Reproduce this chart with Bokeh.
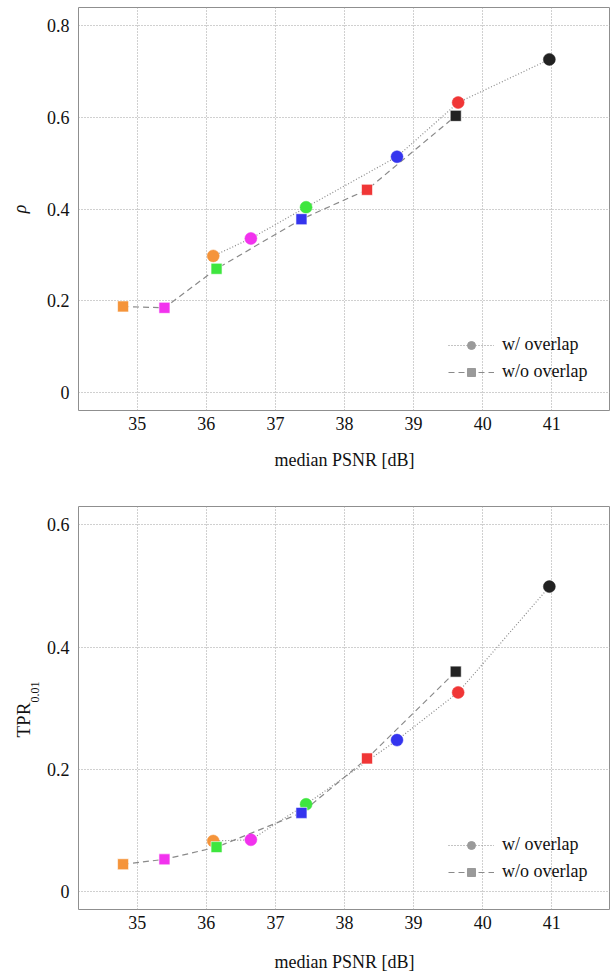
import math
from bokeh.plotting import figure
from bokeh.models import (ColumnDataSource, Range1d, Legend, LegendItem, Title,
                          FixedTicker)
from bokeh.layouts import column
from bokeh.embed import file_html
from bokeh.resources import INLINE

# ---------------- data ----------------
colors = ["#f5943a", "#f232ee", "#3ee63e", "#3434ee", "#f03636", "#222222"]

psnr_overlap = [36.10, 36.645, 37.444, 38.76, 39.645, 40.965]
psnr_no_overlap = [34.795, 35.394, 36.148, 37.377, 38.326, 39.61]

rho_overlap = [0.298, 0.336, 0.404, 0.514, 0.632, 0.726]
rho_no_overlap = [0.188, 0.185, 0.270, 0.378, 0.442, 0.603]

tpr_overlap = [0.083, 0.085, 0.143, 0.248, 0.326, 0.499]
tpr_no_overlap = [0.045, 0.053, 0.073, 0.129, 0.218, 0.360]

x_ticks = [35, 36, 37, 38, 39, 40, 41]
rho_ticks = [0, 0.2, 0.4, 0.6, 0.8]
tpr_ticks = [0, 0.2, 0.4, 0.6]
rho_tick_labels = {0: "0", 0.2: "0.2", 0.4: "0.4", 0.6: "0.6", 0.8: "0.8"}
tpr_tick_labels = {0: "0", 0.2: "0.2", 0.4: "0.4", 0.6: "0.6"}

FONT = "Liberation Serif"
GRID = "#a0a0a0"
FRAME = "#8f8f8f"
LINE = "#8a8a8a"


def make_panel(y_over, y_no, yr, yticks, ylabels, border_top, border_bottom,
               border_left, xlabel_standoff, ylabel, legend_bottom):
    p = figure(width=610, height=487, output_backend="svg", toolbar_location=None,
               x_range=Range1d(34.15, 41.85), y_range=Range1d(*yr),
               min_border_left=border_left, min_border_right=0,
               min_border_top=border_top, min_border_bottom=border_bottom)
    p.background_fill_color = "white"
    p.border_fill_color = "white"
    p.outline_line_color = FRAME
    p.outline_line_width = 1

    p.axis.axis_line_color = None
    p.axis.major_tick_line_color = None
    p.axis.minor_tick_line_color = None
    p.axis.major_tick_out = 0
    p.axis.major_tick_in = 0
    p.axis.minor_tick_out = 0
    p.axis.major_label_text_font = FONT
    p.axis.major_label_text_font_style = "normal"
    p.axis.major_label_text_font_size = "18px"
    p.axis.major_label_text_color = "#111111"
    p.axis.axis_label_text_font = FONT
    p.axis.axis_label_text_font_style = "normal"
    p.axis.axis_label_text_font_size = "18px"
    p.axis.axis_label_text_color = "#111111"

    p.xaxis.ticker = FixedTicker(ticks=x_ticks)
    p.yaxis.ticker = FixedTicker(ticks=yticks)
    p.yaxis.major_label_overrides = ylabels
    p.xaxis.major_label_standoff = 6
    p.yaxis.major_label_standoff = 9
    p.xaxis.axis_label = "median PSNR [dB]"
    p.xaxis.axis_label_standoff = xlabel_standoff
    if ylabel:
        p.yaxis.axis_label = ylabel
        p.yaxis.axis_label_text_font_style = "italic"
        p.yaxis.axis_label_standoff = 14

    p.grid.grid_line_color = GRID
    p.grid.grid_line_dash = "1 2"
    p.grid.grid_line_width = 1

    s_over = ColumnDataSource(dict(x=psnr_overlap, y=y_over, c=colors))
    s_no = ColumnDataSource(dict(x=psnr_no_overlap, y=y_no, c=colors))

    l_over = p.line("x", "y", source=s_over, line_color=LINE, line_dash="1 2",
                    line_width=1.2)
    l_no = p.line("x", "y", source=s_no, line_color=LINE, line_dash="6 4",
                  line_width=1.2)
    p.scatter("x", "y", source=s_over, marker="circle", size=12,
              fill_color="c", line_color="c", line_alpha=0.5)
    p.scatter("x", "y", source=s_no, marker="square", size=11,
              fill_color="c", line_color="white", line_alpha=0.6)

    # gray markers used only by the legend
    d_over = p.scatter("x", "y", source=s_over, marker="circle", size=12,
                       fill_color="#9a9a9a", line_color="#9a9a9a", visible=False)
    d_no = p.scatter("x", "y", source=s_no, marker="square", size=11,
                     fill_color="#9a9a9a", line_color="#9a9a9a", visible=False)

    legend = Legend(items=[
        LegendItem(label="w/ overlap", renderers=[l_over, d_over]),
        LegendItem(label="w/o overlap", renderers=[l_no, d_no]),
    ], location=(370, legend_bottom))
    legend.border_line_color = None
    legend.background_fill_alpha = 0
    legend.padding = 0
    legend.margin = 0
    legend.spacing = 6
    legend.glyph_width = 46
    legend.glyph_height = 20
    legend.label_height = 20
    legend.label_standoff = 8
    legend.label_text_font = FONT
    legend.label_text_font_style = "normal"
    legend.label_text_font_size = "18px"
    legend.label_text_color = "#111111"
    p.add_layout(legend, "center")
    return p


p1 = make_panel(rho_overlap, rho_no_overlap, (-0.0386, 0.839), rho_ticks,
                rho_tick_labels, 7, 77, 76, 17, "ρ", 28)

p2 = make_panel(tpr_overlap, tpr_no_overlap, (-0.029, 0.630), tpr_ticks,
                tpr_tick_labels, 19, 65, 78, 20, "", 27)

# y-axis title TPR_{0.01}: main text plus a smaller, lowered subscript
t_sub = Title(text="0.01", align="left", offset=207, standoff=6,
              vertical_align="top",
              text_font=FONT, text_font_size="12px",
              text_font_style="normal", text_color="#111111")
t_main = Title(text="TPR", align="left", offset=172, standoff=-12,
               text_font=FONT, text_font_size="19px",
               text_font_style="normal", text_color="#111111")
p2.add_layout(t_sub, "left")
p2.add_layout(t_main, "left")

layout = column(p1, p2, spacing=0)
open("out.html", "w").write(file_html(layout, INLINE))
